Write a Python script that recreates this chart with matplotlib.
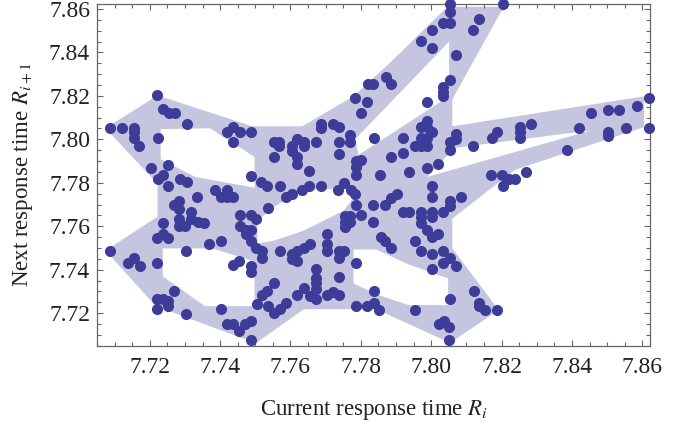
import numpy as np
import matplotlib.pyplot as plt
from matplotlib.path import Path
from matplotlib.patches import PathPatch

plt.rcParams['font.family'] = ['Liberation Serif', 'DejaVu Serif']
plt.rcParams['mathtext.fontset'] = 'stix'

# outline of the light band region (R_i, R_{i+1})
outer_x = [7.7074, 7.7222, 7.7492, 7.7633, 7.7779, 7.7883, 7.8046, 7.8206, 7.8060, 7.8060,
           7.8605, 7.8605, 7.8237, 7.8060, 7.8060, 7.8192, 7.8054, 7.7843, 7.7638, 7.7503,
           7.7461, 7.7217, 7.7074, 7.7222, 7.7222]
outer_y = [7.8051, 7.8202, 7.8060, 7.8060, 7.8198, 7.8353, 7.8610, 7.8610, 7.8184, 7.8060,
           7.8198, 7.8056, 7.7859, 7.7635, 7.7498, 7.7214, 7.7063, 7.7218, 7.7218, 7.7063,
           7.7086, 7.7232, 7.7488, 7.7644, 7.7795]

# white gaps inside the band region
hole1_x = [7.7231, 7.7371, 7.7498, 7.7498, 7.7329, 7.7231]
hole1_y = [7.8047, 7.8051, 7.7919, 7.7777, 7.7827, 7.7909]
hole2_x = [7.7237, 7.7377, 7.7498, 7.7498, 7.7357, 7.7237]
hole2_y = [7.7498, 7.7498, 7.7438, 7.7232, 7.7232, 7.7369]
hole3_x = [7.7506, 7.7554, 7.7638, 7.7765, 7.7776, 7.7751, 7.7638, 7.7554, 7.7506]
hole3_y = [7.7626, 7.7690, 7.7768, 7.7772, 7.7726, 7.7671, 7.7580, 7.7534, 7.7520]
hole4_x = [7.7779, 7.7843, 7.7936, 7.8048, 7.8048, 7.7936, 7.7843, 7.7779]
hole4_y = [7.7493, 7.7493, 7.7424, 7.7360, 7.7237, 7.7237, 7.7287, 7.7337]
hole5_x = [7.8051, 7.8051, 7.7793, 7.7784]
hole5_y = [7.8450, 7.8198, 7.7928, 7.8001]
hole6_x = [7.8456, 7.8065, 7.7989]
hole6_y = [7.8042, 7.7960, 7.7827]

# sampled points (current, next)
r_cur = [7.7220, 7.7237, 7.7256, 7.7273, 7.7307, 7.7088, 7.7121, 7.7155, 7.7155, 7.7155,
         7.7169, 7.7222, 7.7419, 7.7436, 7.7456, 7.7489, 7.7489, 7.7203, 7.7253, 7.7237,
         7.7222, 7.7253, 7.7287, 7.7307, 7.7335, 7.7385, 7.7402, 7.7419, 7.7436, 7.7419,
         7.7270, 7.7284, 7.7284, 7.7318, 7.7318, 7.7284, 7.7284, 7.7301, 7.7338, 7.7355,
         7.7237, 7.7220, 7.7237, 7.7253, 7.7369, 7.7402, 7.7456, 7.7489, 7.7503, 7.7456,
         7.7473, 7.7489, 7.7473, 7.7489, 7.7088, 7.7138, 7.7155, 7.7172, 7.7220, 7.7304,
         7.7270, 7.7220, 7.7237, 7.7253, 7.7253, 7.7220, 7.7304, 7.7402, 7.7419, 7.7436,
         7.7453, 7.7470, 7.7489, 7.7489, 7.7436, 7.7453, 7.7489, 7.7489, 7.7503, 7.7520,
         7.7520, 7.7571, 7.7605, 7.7605, 7.7619, 7.7619, 7.7638, 7.7655, 7.7703, 7.7703,
         7.7703, 7.7737, 7.7753, 7.7737, 7.7672, 7.7672, 7.7672, 7.7672, 7.7655, 7.7672,
         7.7619, 7.7703, 7.7720, 7.7737, 7.7737, 7.7638, 7.7554, 7.7534, 7.7520, 7.7506,
         7.7537, 7.7554, 7.7571, 7.7588, 7.7787, 7.7838, 7.7787, 7.7818, 7.7838, 7.7852,
         7.7953, 7.8121, 7.8135, 7.8135, 7.8152, 7.8186, 7.8051, 7.8023, 7.8037, 7.8051,
         7.8054, 7.8003, 7.8071, 7.8054, 7.8034, 7.7970, 7.8003, 7.8034, 7.7953, 7.7857,
         7.7869, 7.7885, 7.7987, 7.8003, 7.8020, 7.7756, 7.7770, 7.7756, 7.7770, 7.7756,
         7.7801, 7.7835, 7.7787, 7.7835, 7.7869, 7.7885, 7.7902, 7.7919, 7.7936, 7.7970,
         7.8003, 7.8003, 7.7970, 7.7970, 7.8034, 7.8054, 7.8054, 7.8085, 7.8003, 7.8003,
         7.7936, 7.8169, 7.8200, 7.8220, 7.8237, 7.8203, 7.8270, 7.7987, 7.8020, 7.7855,
         7.7784, 7.7773, 7.7734, 7.7753, 7.7787, 7.7787, 7.7787, 7.7801, 7.7784, 7.7818,
         7.7801, 7.7821, 7.7835, 7.7838, 7.7770, 7.7770, 7.7737, 7.7737, 7.7720, 7.7737,
         7.7686, 7.7686, 7.7672, 7.7638, 7.7638, 7.7619, 7.7605, 7.7605, 7.7554, 7.7568,
         7.7568, 7.7554, 7.7619, 7.7619, 7.7652, 7.7517, 7.7534, 7.7571, 7.7605, 7.7588,
         7.7633, 7.7652, 7.7686, 7.7537, 7.7919, 7.7953, 7.7970, 7.7987, 7.7970, 7.7987,
         7.7970, 7.7987, 7.8003, 7.7987, 7.7987, 7.7919, 7.7885, 7.8071, 7.8071, 7.8054,
         7.8054, 7.8119, 7.8172, 7.8186, 7.8251, 7.8251, 7.8251, 7.8284, 7.8419, 7.8453,
         7.8503, 7.8534, 7.8585, 7.8619, 7.8503, 7.8503, 7.8554, 7.8619, 7.8385, 7.8054,
         7.8203, 7.8054, 7.8034, 7.8054, 7.8135, 7.8119, 7.8003, 7.7970, 7.8003, 7.8071,
         7.7871, 7.7885, 7.8054, 7.8034, 7.8034, 7.8034, 7.7436]
r_next = [7.8202, 7.8138, 7.8120, 7.8120, 7.8070, 7.8051, 7.8051, 7.8051, 7.8033, 7.8006,
          7.7969, 7.8006, 7.8033, 7.8056, 7.8033, 7.8033, 7.7832, 7.7868, 7.7882, 7.7836,
          7.7818, 7.7786, 7.7818, 7.7804, 7.7736, 7.7768, 7.7736, 7.7736, 7.7736, 7.7768,
          7.7699, 7.7717, 7.7681, 7.7667, 7.7635, 7.7635, 7.7603, 7.7603, 7.7621, 7.7617,
          7.7617, 7.7548, 7.7566, 7.7548, 7.7516, 7.7534, 7.7653, 7.7653, 7.7635, 7.7603,
          7.7584, 7.7584, 7.7562, 7.7534, 7.7484, 7.7433, 7.7452, 7.7415, 7.7433, 7.7484,
          7.7301, 7.7264, 7.7264, 7.7255, 7.7232, 7.7218, 7.7195, 7.7218, 7.7150, 7.7150,
          7.7118, 7.7150, 7.7163, 7.7076, 7.7420, 7.7438, 7.7415, 7.7388, 7.7498, 7.7484,
          7.7452, 7.7484, 7.7470, 7.7447, 7.7438, 7.7484, 7.7498, 7.7516, 7.7566, 7.7520,
          7.7484, 7.7484, 7.7484, 7.7452, 7.7401, 7.7360, 7.7337, 7.7310, 7.7278, 7.7264,
          7.7282, 7.7282, 7.7296, 7.7282, 7.7365, 7.7314, 7.7337, 7.7301, 7.7282, 7.7241,
          7.7232, 7.7200, 7.7218, 7.7246, 7.7433, 7.7301, 7.7232, 7.7232, 7.7246, 7.7214,
          7.7214, 7.7301, 7.7246, 7.7232, 7.7214, 7.7214, 7.7136, 7.7150, 7.7163, 7.7076,
          7.7264, 7.7401, 7.7415, 7.7452, 7.7433, 7.7484, 7.7470, 7.7484, 7.7534, 7.7552,
          7.7534, 7.7502, 7.7584, 7.7552, 7.7566, 7.7649, 7.7649, 7.7621, 7.7621, 7.7598,
          7.7653, 7.7621, 7.7699, 7.7699, 7.7699, 7.7731, 7.7749, 7.7667, 7.7667, 7.7667,
          7.7667, 7.7644, 7.7644, 7.7617, 7.7667, 7.7717, 7.7694, 7.7736, 7.7736, 7.7786,
          7.7850, 7.7836, 7.7836, 7.7818, 7.7818, 7.7786, 7.7850, 7.7868, 7.7887, 7.7836,
          7.7749, 7.7768, 7.7768, 7.7800, 7.7836, 7.7900, 7.7873, 7.7905, 7.8189, 7.8170,
          7.8120, 7.8253, 7.8253, 7.8006, 7.8019, 7.7987, 7.7987, 7.7932, 7.8070, 7.8056,
          7.8070, 7.8051, 7.7987, 7.7987, 7.7969, 7.8001, 7.7969, 7.7946, 7.7987, 7.7987,
          7.7969, 7.7919, 7.7919, 7.7887, 7.7855, 7.7804, 7.7786, 7.7786, 7.7749, 7.7736,
          7.7768, 7.7786, 7.7786, 7.7685, 7.8006, 7.7969, 7.7969, 7.7969, 7.8006, 7.8006,
          7.8056, 7.8056, 7.8033, 7.8083, 7.8170, 7.7937, 7.7919, 7.8024, 7.8001, 7.7987,
          7.7951, 7.7969, 7.8006, 7.8033, 7.8056, 7.8033, 7.8006, 7.8070, 7.8051, 7.8120,
          7.8134, 7.8134, 7.8152, 7.8189, 7.8033, 7.8015, 7.8051, 7.8051, 7.7951, 7.8623,
          7.8623, 7.8587, 7.8537, 7.8537, 7.8555, 7.8504, 7.8504, 7.8454, 7.8422, 7.8390,
          7.8289, 7.8253, 7.8271, 7.8239, 7.8216, 7.8198, 7.7987]


def ring(xs, ys, ccw):
    pts = np.column_stack([xs, ys])
    area = np.sum(pts[:, 0] * np.roll(pts[:, 1], -1) - np.roll(pts[:, 0], -1) * pts[:, 1])
    if (area > 0) != ccw:
        pts = pts[::-1]
    codes = [Path.MOVETO] + [Path.LINETO] * (len(pts) - 1) + [Path.CLOSEPOLY]
    return np.vstack([pts, pts[:1]]), codes


verts, codes = ring(outer_x, outer_y, True)
for hx, hy in [(hole1_x, hole1_y), (hole2_x, hole2_y), (hole3_x, hole3_y),
               (hole4_x, hole4_y), (hole5_x, hole5_y), (hole6_x, hole6_y)]:
    v, c = ring(hx, hy, False)
    verts = np.vstack([verts, v])
    codes = codes + c

fig = plt.figure(figsize=(6.91, 4.26), dpi=100)
ax = fig.add_axes([0.1404, 0.1885, 0.8003, 0.8021])

ax.add_patch(PathPatch(Path(verts, codes), facecolor='#C5C5E0', edgecolor='none', zorder=1))
ax.plot(r_cur, r_next, 'o', color='#3D3D99', markersize=8, markeredgewidth=0,
        clip_on=False, zorder=3)

ax.set_xlim(7.7066, 7.8622)
ax.set_ylim(7.7060, 7.8623)
ticks = [7.72, 7.74, 7.76, 7.78, 7.80, 7.82, 7.84, 7.86]
ax.set_xticks(ticks)
ax.set_yticks(ticks)
ax.set_xticklabels(['%.2f' % t for t in ticks])
ax.set_yticklabels(['%.2f' % t for t in ticks])
ax.set_xticks(np.arange(7.705, 7.8625, 0.005), minor=True)
ax.set_yticks(np.arange(7.705, 7.8625, 0.005), minor=True)
ax.tick_params(which='both', direction='in', top=True, right=True, color='#666666',
               width=0.8, labelsize=17, labelcolor='#222222')
ax.tick_params(which='major', length=4.5)
ax.tick_params(which='minor', length=2.6)
ax.tick_params(axis='x', pad=8)
ax.tick_params(axis='y', pad=5)
for s in ax.spines.values():
    s.set_color('#666666')
    s.set_linewidth(0.9)

fig.text(0.5405, 1 - 410 / 426, 'Current response time $R_i$', ha='center', va='center',
         fontsize=16.5, color='#222222')
fig.text(0.034, 1 - 175 / 426, 'Next response time $R_{i+1}$', ha='center', va='center',
         rotation=90, fontsize=16.5, color='#222222')

fig.savefig('out.png', dpi=100)
